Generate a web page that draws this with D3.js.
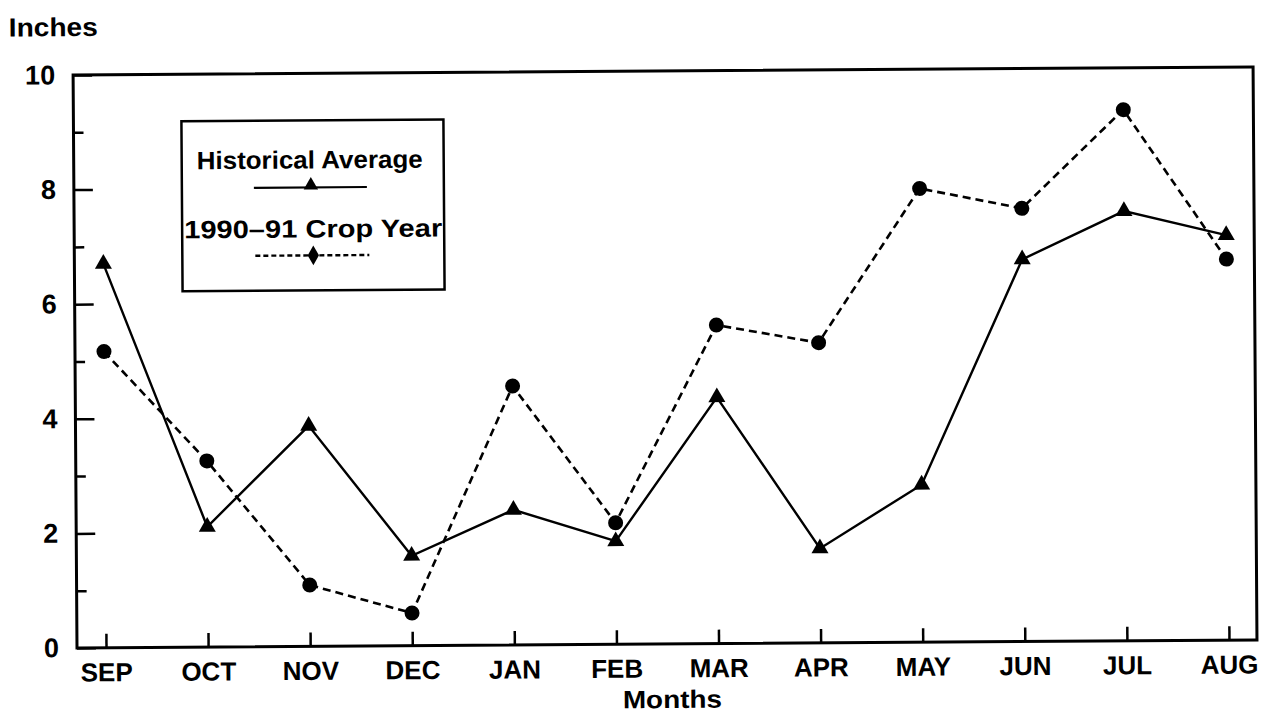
<!DOCTYPE html>
<html>
<head>
<meta charset="utf-8">
<script src="https://cdn.jsdelivr.net/npm/d3@7"></script>
<style>
  html, body { margin: 0; padding: 0; background: #fff; }
  svg { display: block; }
  text { font-family: "Liberation Sans", Arial, sans-serif; font-weight: bold; fill: #000; }
</style>
</head>
<body>
<svg id="chart" width="1272" height="719"></svg>
<script>
// ---- data ----
const months = ["SEP","OCT","NOV","DEC","JAN","FEB","MAR","APR","MAY","JUN","JUL","AUG"];
const historical = [6.7, 2.1, 3.85, 1.57, 2.36, 1.8, 4.3, 1.65, 2.75, 6.67, 7.5, 7.07];
const cropYear = [5.17, 3.25, 1.07, 0.57, 4.52, 2.12, 5.56, 5.24, 7.92, 7.56, 9.27, 6.65];
const majorTicks = [0, 2, 4, 6, 8, 10];
const minorTicks = [1, 3, 5, 7, 9];
const seriesNames = ["Historical Average", "1990\u201391 Crop Year"];

// ---- layout ----
const W = 1272, H = 719;
const plotL = 77, plotR = 1257, plotT = 75, plotB = 648;

const svg = d3.select("#chart");
svg.append("rect").attr("width", W).attr("height", H).attr("fill", "#fff");

// slight scan rotation of the original page
const g = svg.append("g").attr("transform", `rotate(-0.39, ${plotL}, ${plotB})`);

const x = d3.scalePoint().domain(months).range([106, 1229]);
const y = d3.scaleLinear().domain([0, 10]).range([plotB, plotT]);

// frame
g.append("rect")
  .attr("x", plotL).attr("y", plotT)
  .attr("width", plotR - plotL).attr("height", plotB - plotT)
  .attr("fill", "none").attr("stroke", "#000").attr("stroke-width", 3);

// y axis major ticks + labels (ticks pointing inward)
const yAxis = g.append("g").attr("transform", `translate(${plotL},0)`)
  .call(d3.axisLeft(y).tickValues(majorTicks).tickSize(-19).tickPadding(18).tickFormat(d3.format("d")));
yAxis.select(".domain").remove();
yAxis.selectAll("line").attr("stroke", "#000").attr("stroke-width", 2.5);
yAxis.selectAll("text").attr("font-size", 27).attr("font-family", "'Liberation Sans', Arial, sans-serif").attr("font-weight", "bold");

// y axis minor ticks
const yMinor = g.append("g").attr("transform", `translate(${plotL},0)`)
  .call(d3.axisLeft(y).tickValues(minorTicks).tickSize(-10).tickFormat(""));
yMinor.select(".domain").remove();
yMinor.selectAll("line").attr("stroke", "#000").attr("stroke-width", 2.5);

// x axis
const xAxis = g.append("g").attr("transform", `translate(0,${plotB})`)
  .call(d3.axisBottom(x).tickSize(-14).tickPadding(15));
xAxis.select(".domain").remove();
xAxis.selectAll("line").attr("stroke", "#000").attr("stroke-width", 2.5);
xAxis.selectAll("text").attr("font-size", 26).attr("font-family", "'Liberation Sans', Arial, sans-serif").attr("font-weight", "bold");

// axis titles
g.append("text").attr("x", 13).attr("y", 36).attr("font-size", 26)
  .attr("textLength", 89).attr("lengthAdjust", "spacingAndGlyphs").text("Inches");
g.append("text").attr("x", (plotL + plotR) / 2 + 5).attr("y", 712).attr("text-anchor", "middle")
  .attr("font-size", 25).attr("textLength", 99).attr("lengthAdjust", "spacingAndGlyphs").text("Months");

// lines
const line = d3.line().x((d, i) => x(months[i])).y(d => y(d));

g.append("path").datum(historical).attr("d", line)
  .attr("fill", "none").attr("stroke", "#000").attr("stroke-width", 2.4);
g.append("path").datum(cropYear).attr("d", line)
  .attr("fill", "none").attr("stroke", "#000").attr("stroke-width", 2.6)
  .attr("stroke-dasharray", "8,5");

// markers
const tri = d3.symbol().type(d3.symbolTriangle).size(125);
g.append("g").selectAll("path").data(historical).join("path")
  .attr("d", tri)
  .attr("transform", (d, i) => `translate(${x(months[i])},${y(d)})`)
  .attr("fill", "#000");
g.append("g").selectAll("circle").data(cropYear).join("circle")
  .attr("cx", (d, i) => x(months[i])).attr("cy", d => y(d)).attr("r", 7.5)
  .attr("fill", "#000");

// legend
const lg = g.append("g");
lg.append("rect").attr("x", 185).attr("y", 122).attr("width", 262).attr("height", 170)
  .attr("fill", "#fff").attr("stroke", "#000").attr("stroke-width", 2.5);
lg.append("text").attr("x", 200).attr("y", 170).attr("font-size", 25)
  .attr("textLength", 226).attr("lengthAdjust", "spacingAndGlyphs").text(seriesNames[0]);
lg.append("line").attr("x1", 257).attr("x2", 370).attr("y1", 189).attr("y2", 189)
  .attr("stroke", "#000").attr("stroke-width", 2.2);
lg.append("path").attr("d", d3.symbol().type(d3.symbolTriangle).size(90))
  .attr("transform", "translate(314,187)").attr("fill", "#000");
lg.append("text").attr("x", 187).attr("y", 239).attr("font-size", 25)
  .attr("textLength", 258).attr("lengthAdjust", "spacingAndGlyphs").text(seriesNames[1]);
lg.append("line").attr("x1", 258).attr("x2", 372).attr("y1", 257).attr("y2", 257)
  .attr("stroke", "#000").attr("stroke-width", 2.4).attr("stroke-dasharray", "5,3");
lg.append("path").attr("d", d3.symbol().type(d3.symbolDiamond).size(110))
  .attr("transform", "translate(316,257)").attr("fill", "#000");
</script>
</body>
</html>
